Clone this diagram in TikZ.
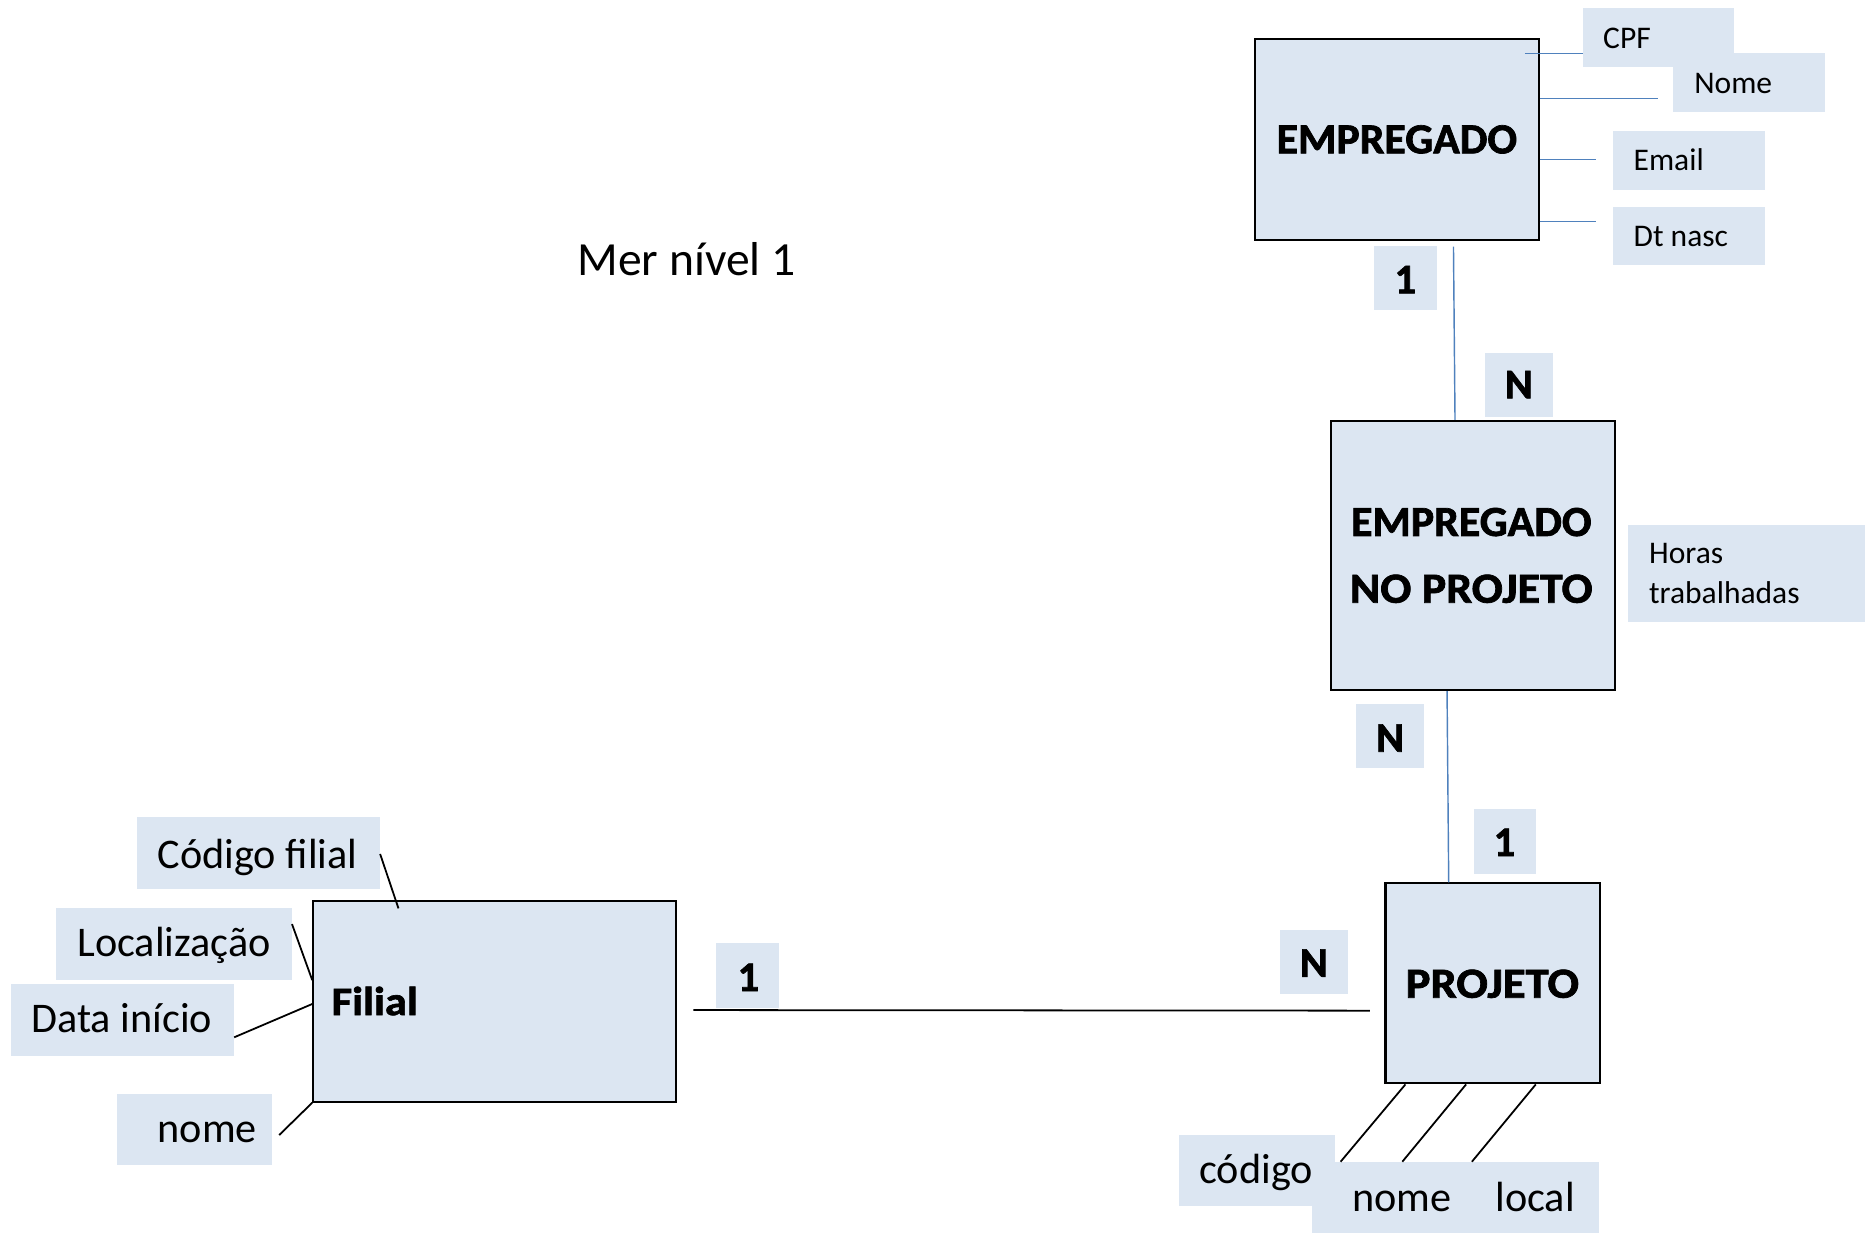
\documentclass[tikz,border=0pt]{standalone}
\usepackage{graphicx}
\usepackage{fontspec}
\setmainfont{Carlito}[BoldFeatures={FakeBold=1.6}]
\usetikzlibrary{calc}
\definecolor{boxfill}{HTML}{DCE6F2}
\definecolor{linkblue}{HTML}{4F81BD}
\begin{document}
\begin{tikzpicture}[x=1pt,y=-1pt,
  entity/.style={draw=black, line width=1.7pt, fill=boxfill, inner sep=0pt, anchor=north west},
  tagbox/.style={fill=boxfill, inner sep=0pt, anchor=north west},
  txt/.style={inner sep=0pt, anchor=base west},
  entname/.style={txt, font=\fontsize{36}{40}\selectfont\bfseries},
  card/.style={inner sep=0pt, anchor=base, font=\fontsize{35.5}{40}\selectfont\bfseries},
  smallattr/.style={txt, font=\fontsize{26.5}{30}\selectfont},
  bigattr/.style={txt, font=\fontsize{35.5}{40}\selectfont},
  bluelink/.style={draw=linkblue, line width=1.2pt},
  blacklink/.style={draw=black, line width=1.5pt}]
\useasboundingbox (0,0) rectangle (1568,1036.6);

% ---------- EMPREGADO ----------
\node[entity, minimum width=238.4pt, minimum height=169pt] (emp) at (1054.6,31.7) {};
\node[entname] (empT) at (1073.1,128.9) {\scalebox{1.025}[1]{EMPREGADO}};
\node[tagbox, minimum width=127pt, minimum height=49.3pt] (cpfB) at (1331,6.7) {};
\node[tagbox, minimum width=127.5pt, minimum height=49.3pt] (nomeB) at (1406.5,44.6) {};
\node[tagbox, minimum width=127.5pt, minimum height=49.5pt] (emailB) at (1356,110) {};
\node[tagbox, minimum width=127.5pt, minimum height=49pt] (dtB) at (1356,174) {};
\node[smallattr] (cpfT) at (1347.7,40.6) {CPF};
\node[smallattr] (nomeT) at (1424.3,78.5) {Nome};
\node[smallattr] (emailT) at (1373.3,143.5) {Email};
\node[smallattr] (dtT) at (1373.3,207.4) {Dt nasc};

\coordinate (cpfStart) at (1282,44.8);
\coordinate (nomeEnd) at (1394,83);
\coordinate (emailEnd) at (1341.6,134);
\coordinate (dtEnd) at (1341.6,186.4);
\draw[bluelink] (cpfStart) -- (cpfStart -| cpfB.west);
\draw[bluelink] (emp.east |- nomeEnd) -- (nomeEnd);
\draw[bluelink] (emp.east |- emailEnd) -- (emailEnd);
\draw[bluelink] (emp.east |- dtEnd) -- (dtEnd);

% ---------- cardinalities EMPREGADO / EMPREGADO NO PROJETO ----------
\node[tagbox, minimum width=53pt, minimum height=54pt] (one1B) at (1155,206.8) {};
\node[card] (one1T) at (1181.5,246.6) {1};
\node[tagbox, minimum width=57.3pt, minimum height=53.5pt] (n1B) at (1248.4,296.8) {};
\node[card] (n1T) at (1277,334.9) {N};

% ---------- EMPREGADO NO PROJETO ----------
\node[entity, minimum width=238.6pt, minimum height=226.3pt] (enp) at (1118.4,353) {};
\node[card, font=\fontsize{36}{40}\selectfont\bfseries] (enpT1) at (1237,450.6) {\scalebox{1.025}[1]{EMPREGADO}};
\node[card, font=\fontsize{36}{40}\selectfont\bfseries] (enpT2) at (1237,506.7) {\scalebox{1.074}[1]{NO PROJETO}};
\node[tagbox, minimum width=199.2pt, minimum height=81.3pt] (horasB) at (1368.8,441.4) {};
\node[smallattr] (horasT1) at (1386.3,473.6) {Horas};
\node[smallattr] (horasT2) at (1386.3,507.3) {trabalhadas};

\coordinate (empLinkTop) at (1222,207.4);
\draw[bluelink] (empLinkTop) -- ($(enp.north west)+(104.9,0)$);

% ---------- cardinalities EMPREGADO NO PROJETO / PROJETO ----------
\node[tagbox, minimum width=57.2pt, minimum height=53.5pt] (n2B) at (1140,591.9) {};
\node[card] (n2T) at (1168.7,632) {N};
\node[tagbox, minimum width=52.7pt, minimum height=54.3pt] (one2B) at (1238.7,680.2) {};
\node[card] (one2T) at (1264.8,719.7) {1};

% ---------- PROJETO ----------
\node[entity, minimum width=180.5pt, minimum height=168.2pt] (proj) at (1164,741.8) {};
\node[entname] (projT) at (1181.6,838.8) {\scalebox{1.09}[1]{PROJETO}};
\draw[bluelink] ($(enp.south west)+(98.2,0)$) -- ($(proj.north west)+(54,0)$);

\node[tagbox, minimum width=130.4pt, minimum height=59.7pt] (codB) at (991.4,954.3) {};
\node[tagbox, minimum width=241.5pt, minimum height=59.4pt] (nlB) at (1103,977) {};
\node[bigattr] (codT) at (1008.2,995) {código};
\node[bigattr] (nomePT) at (1136.7,1018.2) {nome};
\node[bigattr] (localT) at (1257.1,1018.2) {local};

\coordinate (pa1) at (1127.1,976.7);
\coordinate (pa2) at (1179,976.7);
\coordinate (pa3) at (1237.5,976.7);
\draw[blacklink] ($(proj.south west)+(17.6,0)$) -- (pa1);
\draw[blacklink] ($(proj.south west)+(68.6,0)$) -- (pa2);
\draw[blacklink] ($(proj.south west)+(127.2,0)$) -- (pa3);

\node[tagbox, minimum width=57.3pt, minimum height=53.4pt] (n3B) at (1076,782) {};
\node[card] (n3T) at (1104.6,821.2) {N};

% ---------- Filial ----------
\node[entity, minimum width=305pt, minimum height=168.7pt] (filial) at (262.5,756.7) {};
\node[txt, font=\fontsize{34}{40}\selectfont\bfseries] (filialT) at (278.7,853.4) {\scalebox{1.1}[1]{Filial}};
\node[tagbox, minimum width=53pt, minimum height=54.6pt] (one3B) at (602,792.6) {};
\node[card] (one3T) at (629.2,833.2) {1};

\coordinate (relStart) at (583,849.2);
\coordinate (relEnd) at (1151.7,849.7);
\draw[blacklink] (relStart) -- (relEnd);

\node[tagbox, minimum width=204.6pt, minimum height=60.3pt] (codfB) at (115,686.9) {};
\node[tagbox, minimum width=198.4pt, minimum height=60.3pt] (locB) at (47.1,763.4) {};
\node[tagbox, minimum width=187.6pt, minimum height=60.3pt] (dataB) at (9.3,827.3) {};
\node[tagbox, minimum width=130.1pt, minimum height=59.7pt] (nomefB) at (98.4,919.8) {};
\node[bigattr] (codfT) at (132.4,730) {Código filial};
\node[bigattr] (locT) at (64.9,804.3) {Localização};
\node[bigattr] (dataT) at (26.3,868.2) {Data início};
\node[bigattr] (nomefT) at (132.4,960.7) {nome};

\coordinate (cf1) at (319.6,718);
\coordinate (cf2) at (335,763.7);
\coordinate (lc1) at (245.5,776.9);
\coordinate (lc2) at (262.5,824);
\coordinate (di1) at (196.9,872.1);
\coordinate (di2) at (262.5,844.1);
\coordinate (nf1) at (234.7,954.3);
\draw[blacklink] (cf1) -- (cf2);
\draw[blacklink] (lc1) -- (lc2);
\draw[blacklink] (di1) -- (di2);
\draw[blacklink] (nf1) -- (filial.south west);

% ---------- title ----------
\node[txt, font=\fontsize{40}{44}\selectfont] (title) at (485.4,232) {Mer nível 1};
\end{tikzpicture}
\end{document}
